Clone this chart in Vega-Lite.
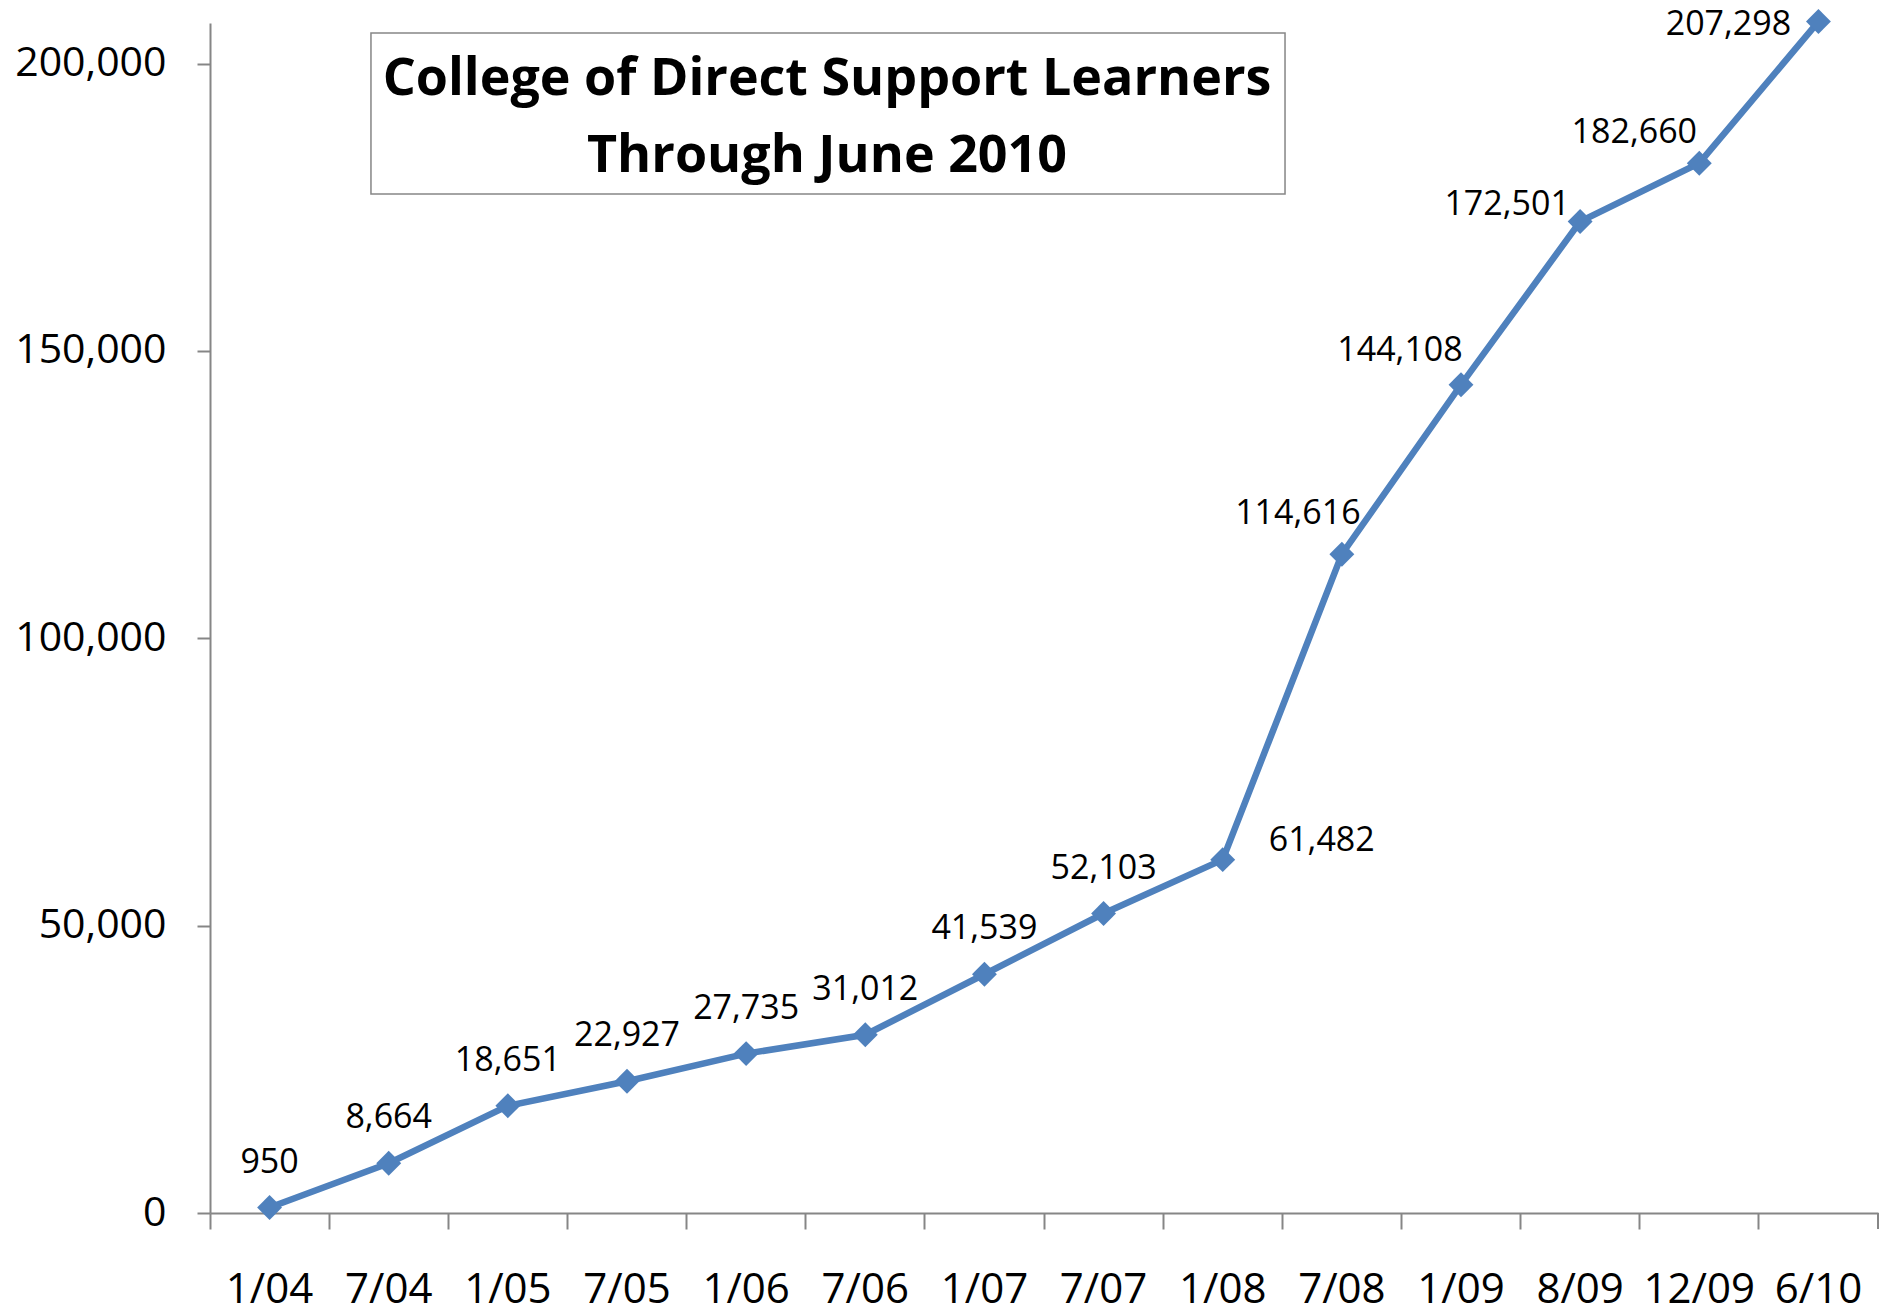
{
  "$schema": "https://vega.github.io/schema/vega-lite/v6.json",
  "width": 1668,
  "height": 1190,
  "autosize": {"type": "none"},
  "padding": {"left": 210, "top": 23, "right": 24, "bottom": 102},
  "background": "white",
  "config": {"view": {"stroke": null}, "font": "Open Sans"},
  "datasets": {
    "learners": [
      {"date": "1/04", "learners": 950},
      {"date": "7/04", "learners": 8664},
      {"date": "1/05", "learners": 18651},
      {"date": "7/05", "learners": 22927},
      {"date": "1/06", "learners": 27735},
      {"date": "7/06", "learners": 31012},
      {"date": "1/07", "learners": 41539},
      {"date": "7/07", "learners": 52103},
      {"date": "1/08", "learners": 61482},
      {"date": "7/08", "learners": 114616},
      {"date": "1/09", "learners": 144108},
      {"date": "8/09", "learners": 172501},
      {"date": "12/09", "learners": 182660},
      {"date": "6/10", "learners": 207298}
    ],
    "caption": [
      {"title": ["College of Direct Support Learners", "Through June 2010"]}
    ]
  },
  "layer": [
    {
      "data": {"name": "learners"},
      "encoding": {
        "x": {
          "field": "date", "type": "ordinal", "sort": null,
          "scale": {"type": "band", "paddingInner": 0, "paddingOuter": 0},
          "axis": {
            "title": null, "labelAngle": 0, "bandPosition": 0,
            "labelFontSize": 42, "labelColor": "black", "labelPadding": 40,
            "tickSize": 16, "tickColor": "#868686", "tickWidth": 2,
            "domainColor": "#868686", "domainWidth": 2, "grid": false
          }
        },
        "y": {
          "field": "learners", "type": "quantitative",
          "scale": {"domain": [0, 207050], "nice": false},
          "axis": {
            "title": null, "values": [0, 50000, 100000, 150000, 200000], "format": ",d",
            "labelFontSize": 41, "labelColor": "black", "labelPadding": 31,
            "tickSize": 13, "tickColor": "#868686", "tickWidth": 2,
            "domainColor": "#868686", "domainWidth": 2, "grid": false
          }
        }
      },
      "layer": [
        {"mark": {"type": "line", "color": "#4F81BD", "strokeWidth": 6.5}},
        {"mark": {"type": "point", "shape": "diamond", "filled": true, "size": 620, "color": "#4F81BD", "opacity": 1}},
        {
          "transform": [{"filter": "indexof(['1/04','7/04','1/05','7/05','1/06','7/06','1/07','7/07'], datum.date) >= 0"}],
          "mark": {"type": "text", "fontSize": 34, "color": "black", "align": "center", "baseline": "middle", "dy": -45},
          "encoding": {"text": {"field": "learners", "type": "quantitative", "format": ","}}
        },
        {
          "transform": [{"filter": "datum.date == '1/08'"}],
          "mark": {"type": "text", "fontSize": 34, "color": "black", "align": "center", "baseline": "middle", "dx": 99, "dy": -19},
          "encoding": {"text": {"field": "learners", "type": "quantitative", "format": ","}}
        },
        {
          "transform": [{"filter": "datum.date == '7/08'"}],
          "mark": {"type": "text", "fontSize": 34, "color": "black", "align": "center", "baseline": "middle", "dx": -44, "dy": -40},
          "encoding": {"text": {"field": "learners", "type": "quantitative", "format": ","}}
        },
        {
          "transform": [{"filter": "datum.date == '1/09'"}],
          "mark": {"type": "text", "fontSize": 34, "color": "black", "align": "center", "baseline": "middle", "dx": -61, "dy": -34},
          "encoding": {"text": {"field": "learners", "type": "quantitative", "format": ","}}
        },
        {
          "transform": [{"filter": "datum.date == '8/09'"}],
          "mark": {"type": "text", "fontSize": 34, "color": "black", "align": "center", "baseline": "middle", "dx": -73, "dy": -17},
          "encoding": {"text": {"field": "learners", "type": "quantitative", "format": ","}}
        },
        {
          "transform": [{"filter": "datum.date == '12/09'"}],
          "mark": {"type": "text", "fontSize": 34, "color": "black", "align": "center", "baseline": "middle", "dx": -65, "dy": -30},
          "encoding": {"text": {"field": "learners", "type": "quantitative", "format": ","}}
        },
        {
          "transform": [{"filter": "datum.date == '6/10'"}],
          "mark": {"type": "text", "fontSize": 34, "color": "black", "align": "center", "baseline": "middle", "dx": -90, "dy": 3},
          "encoding": {"text": {"field": "learners", "type": "quantitative", "format": ","}}
        }
      ]
    },
    {
      "data": {"name": "caption"},
      "layer": [
        {
          "mark": {"type": "rect", "fill": "white", "stroke": "#868686", "strokeWidth": 1.5},
          "encoding": {
            "x": {"datum": 1.351, "type": "quantitative", "scale": {"domain": [0, 14], "nice": false, "zero": false}, "axis": null},
            "x2": {"datum": 9.023},
            "y": {"datum": 205310, "type": "quantitative"},
            "y2": {"datum": 177298}
          }
        },
        {
          "mark": {"type": "text", "fontSize": 52, "fontWeight": "bold", "color": "black", "align": "center", "baseline": "middle", "lineHeight": 77},
          "encoding": {
            "x": {"datum": 5.179, "type": "quantitative", "scale": {"domain": [0, 14], "nice": false, "zero": false}, "axis": null},
            "y": {"datum": 197220, "type": "quantitative"},
            "text": {"field": "title"}
          }
        },
        {
          "mark": {"type": "rule", "color": "#868686", "strokeWidth": 2},
          "encoding": {
            "x": {"datum": 14, "type": "quantitative", "scale": {"domain": [0, 14], "nice": false, "zero": false}, "axis": null},
            "y": {"datum": 0, "type": "quantitative"},
            "y2": {"datum": -2784}
          }
        }
      ]
    }
  ],
  "resolve": {"scale": {"x": "independent"}, "axis": {"x": "independent"}}
}
